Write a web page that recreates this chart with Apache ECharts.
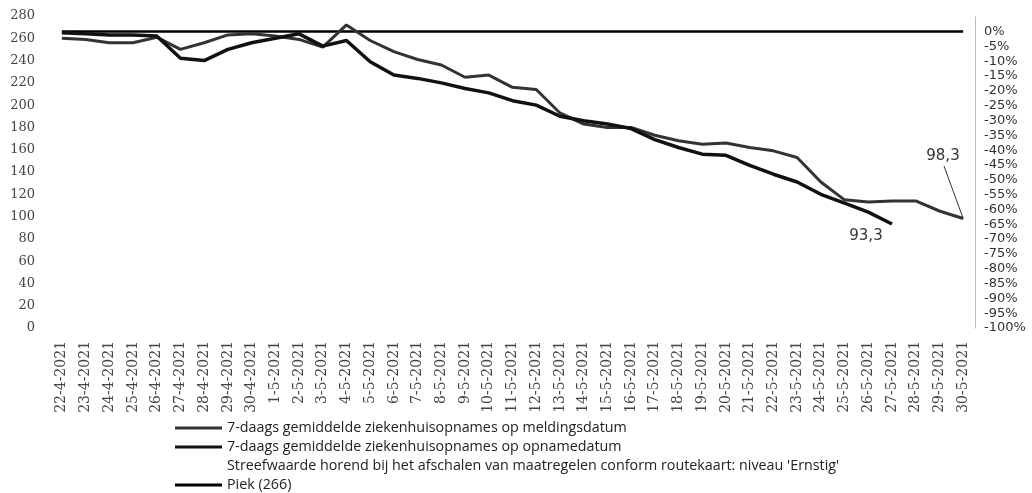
<!DOCTYPE html>
<html>
<head>
<meta charset="utf-8">
<script src="https://cdn.jsdelivr.net/npm/echarts@6/dist/echarts.min.js"></script>
<style>
  html, body { margin: 0; padding: 0; background: #fff; }
  #chart { width: 1032px; height: 493px; }
</style>
</head>
<body>
<div id="chart"></div>
<script>
// datums (x-as)
var dates = ['22-4-2021', '23-4-2021', '24-4-2021', '25-4-2021', '26-4-2021', '27-4-2021', '28-4-2021',
  '29-4-2021', '30-4-2021', '1-5-2021', '2-5-2021', '3-5-2021', '4-5-2021', '5-5-2021', '6-5-2021',
  '7-5-2021', '8-5-2021', '9-5-2021', '10-5-2021', '11-5-2021', '12-5-2021', '13-5-2021', '14-5-2021',
  '15-5-2021', '16-5-2021', '17-5-2021', '18-5-2021', '19-5-2021', '20-5-2021', '21-5-2021', '22-5-2021',
  '23-5-2021', '24-5-2021', '25-5-2021', '26-5-2021', '27-5-2021', '28-5-2021', '29-5-2021', '30-5-2021'];

// 7-daags gemiddelde op meldingsdatum
var melding = [260, 259, 256, 256, 261, 250, 256, 263, 264, 262, 259, 252, 272, 258, 248,
  241, 236, 225, 227, 216, 214, 193, 183, 180, 180, 173, 168, 165, 166, 162, 159,
  153, 131, 115, 113, 114, 114, 105, 98.3];

// 7-daags gemiddelde op opnamedatum
var opname = [265, 264, 263, 263, 262, 242, 240, 250, 256, 260, 264, 253, 258, 239, 227,
  224, 220, 215, 211, 204, 200, 190, 186, 183, 179, 169, 162, 156, 155, 146, 138,
  131, 120, 112, 104, 93.3, null, null, null];

var piek = 266;
var leftTicks = { min: 0, max: 280, step: 20 };
var pctTicks = { min: -100, step: 5 };

var names = [
  '7-daags gemiddelde ziekenhuisopnames op meldingsdatum',
  '7-daags gemiddelde ziekenhuisopnames op opnamedatum',
  "Streefwaarde horend bij het afschalen van maatregelen conform routekaart: niveau 'Ernstig'",
  'Piek (266)'
];

function komma(v) { return String(v).replace('.', ','); }

var lastMeld = melding.length - 1;
var lastOpn = 35;

var chart = echarts.init(document.getElementById('chart'));
var option = {
  animation: false,
  textStyle: { fontFamily: 'Open Sans' },
  grid: { left: 50, right: 57, top: 16, bottom: 165 },
  legend: {
    orient: 'vertical',
    left: 175,
    top: 420,
    padding: 0,
    icon: 'rect',
    itemWidth: 47,
    itemHeight: 3,
    itemGap: 3,
    textStyle: { fontFamily: 'Open Sans', fontSize: 14.3, color: '#222', lineHeight: 16 },
    data: names
  },
  xAxis: {
    type: 'category',
    data: dates,
    boundaryGap: true,
    axisLine: { show: false },
    axisTick: { show: false },
    axisLabel: { rotate: 90, interval: 0, margin: 13, fontFamily: 'DejaVu Serif', fontSize: 14, color: '#444' }
  },
  yAxis: [{
    type: 'value',
    min: leftTicks.min,
    max: leftTicks.max,
    interval: leftTicks.step,
    axisLine: { show: false },
    axisTick: { show: false },
    splitLine: { show: false },
    axisLabel: { margin: 15, fontFamily: 'DejaVu Serif', fontSize: 13, color: '#444' }
  }, {
    type: 'value',
    position: 'right',
    min: pctTicks.min,
    max: (leftTicks.max / piek - 1) * 100,
    interval: pctTicks.step,
    axisLine: { show: true, lineStyle: { color: '#aaa', type: 'dotted', width: 1 } },
    axisTick: { show: false },
    splitLine: { show: false },
    axisLabel: {
      margin: 9, fontFamily: 'DejaVu Sans', fontSize: 13, color: '#333',
      formatter: function (v) { return v > 0.001 ? '' : Math.round(v) + '%'; }
    }
  }],
  series: [{
    name: names[0],
    type: 'line',
    data: melding,
    showSymbol: false,
    symbol: 'none',
    lineStyle: { color: '#333', width: 3 },
    itemStyle: { color: '#333' },
    z: 3,
    markLine: {
      silent: true,
      symbol: 'none',
      lineStyle: { color: '#333', width: 1, type: 'solid' },
      label: { show: true, position: 'end', distance: 3, formatter: komma(melding[lastMeld]),
        fontFamily: 'DejaVu Sans', fontSize: 15, color: '#333' },
      data: [[{ coord: [dates[lastMeld], melding[lastMeld]] }, { x: 944, y: 166 }]]
    }
  }, {
    name: names[1],
    type: 'line',
    data: opname,
    showSymbol: false,
    symbol: 'none',
    lineStyle: { color: '#111', width: 3.5 },
    itemStyle: { color: '#111' },
    z: 4,
    markPoint: {
      silent: true,
      symbol: 'circle',
      symbolSize: 1,
      itemStyle: { color: 'rgba(0,0,0,0)' },
      label: { show: true, position: 'inside', offset: [-26, 12], formatter: komma(opname[lastOpn]),
        fontFamily: 'DejaVu Sans', fontSize: 15, color: '#333' },
      data: [{ coord: [dates[lastOpn], opname[lastOpn]] }]
    }
  }, {
    name: names[2],
    type: 'line',
    data: [],
    symbol: 'none',
    lineStyle: { color: '#fff', width: 3 },
    itemStyle: { color: '#fff' }
  }, {
    name: names[3],
    type: 'line',
    data: dates.map(function () { return piek; }),
    symbol: 'none',
    lineStyle: { color: '#000', width: 2.5 },
    itemStyle: { color: '#000' },
    z: 2
  }]
};
chart.setOption(option);
</script>
</body>
</html>
